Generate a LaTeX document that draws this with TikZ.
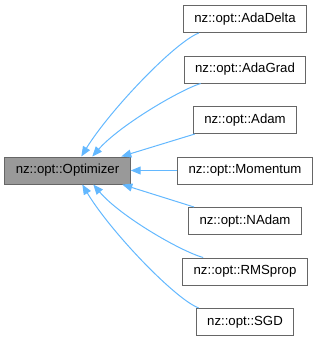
\documentclass[tikz,border=0pt]{standalone}
\usepackage{fontspec}
\setmainfont{Liberation Sans}
\usetikzlibrary{arrows.meta}
\definecolor{edgeblue}{HTML}{63B8FF}
\definecolor{boxborder}{HTML}{666666}
\definecolor{basefill}{HTML}{999999}
\tikzset{
  cls/.style={draw=boxborder, line width=1pt, fill=white, inner xsep=11pt, inner ysep=0pt,
    minimum height=27pt, font=\fontsize{13.2}{15}\selectfont},
  edge/.style={draw=edgeblue, line width=1pt, -{Triangle[length=10pt,width=8pt]}}
}
\begin{document}
\begin{tikzpicture}[x=1pt,y=-1pt]
\useasboundingbox (0,0) rectangle (318,341);
\node[cls, fill=basefill] (opt) at (67.5,170.5) {nz::opt::Optimizer};
\node[cls] (adadelta) at (245,19) {nz::opt::AdaDelta};
\node[cls] (adagrad) at (245,69.5) {nz::opt::AdaGrad};
\node[cls] (adam) at (245,120) {nz::opt::Adam};
\node[cls] (momentum) at (245,170.5) {nz::opt::Momentum};
\node[cls] (nadam) at (245,221) {nz::opt::NAdam};
\node[cls] (rmsprop) at (245,271.5) {nz::opt::RMSprop};
\node[cls] (sgd) at (245,322) {nz::opt::SGD};

\coordinate (t1) at ([xshift=77pt]opt.north west);
\coordinate (t2) at ([xshift=88pt]opt.north west);
\coordinate (t3) at ([xshift=117pt]opt.north west);
\coordinate (b1) at ([xshift=78pt]opt.south west);
\coordinate (b2) at ([xshift=89pt]opt.south west);
\coordinate (b3) at ([xshift=118pt]opt.south west);

\draw[edge] ([xshift=16pt]adadelta.south west) .. controls (175,42) and (110,110) .. (t1);
\draw[edge] ([xshift=17pt]adagrad.south west) .. controls (180,90) and (120,125) .. (t2);
\draw[edge] ([xshift=2pt]adam.south west) -- (t3);
\draw[edge] (momentum.west) -- (opt.east);
\draw[edge] ([xshift=6pt]nadam.north west) -- (b3);
\draw[edge] ([xshift=21pt]rmsprop.north west) .. controls (180,251) and (120,216) .. (b2);
\draw[edge] ([xshift=3pt]sgd.north west) .. controls (175,299) and (110,231) .. (b1);
\end{tikzpicture}
\end{document}
